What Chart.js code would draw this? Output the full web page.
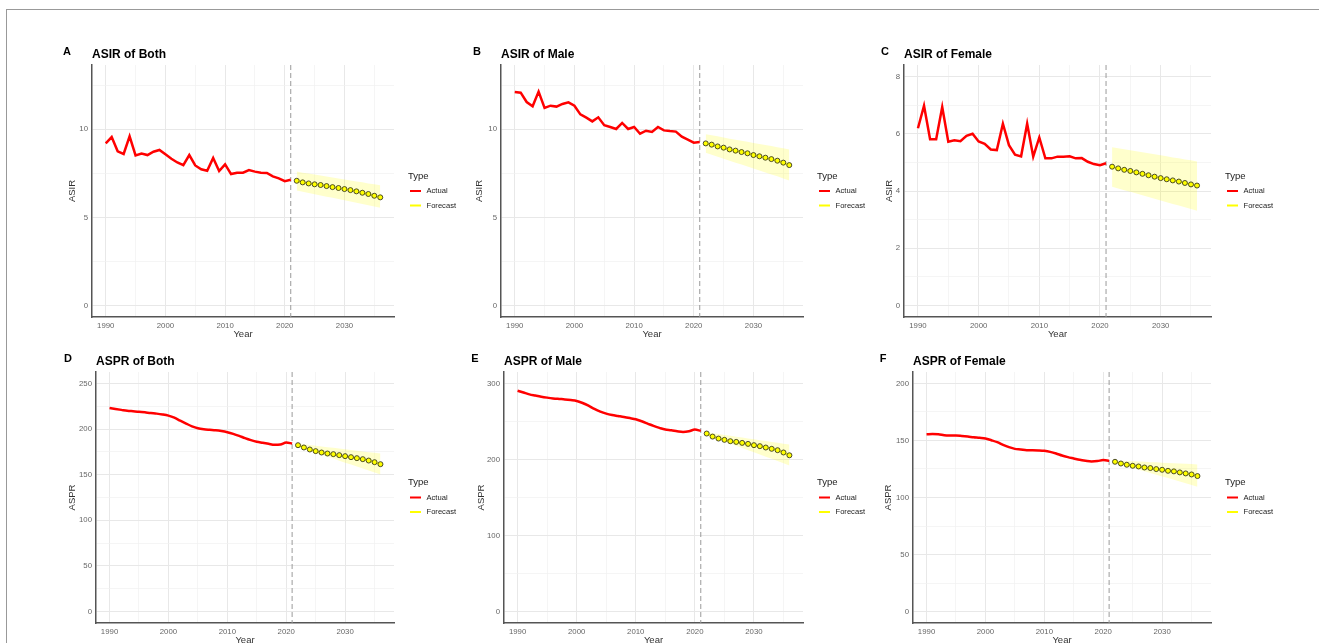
<!DOCTYPE html>
<html>
<head>
<meta charset="utf-8">
<title>ASIR / ASPR forecast</title>
<script src="https://cdn.jsdelivr.net/npm/chart.js@4.4.1/dist/chart.umd.min.js"></script>
<style>
  body { margin: 0; background: #fff; width: 1319px; height: 643px; overflow: hidden; position: relative; }
  .frame { position: absolute; left: 6px; top: 9px; right: 0; bottom: 0; border-top: 1px solid #999; border-left: 1px solid #999; }
  canvas { position: absolute; }
</style>
</head>
<body>
<div class="frame"></div>
<script>
const actualYears = [1990, 1991, 1992, 1993, 1994, 1995, 1996, 1997, 1998, 1999, 2000, 2001, 2002, 2003, 2004, 2005,
  2006, 2007, 2008, 2009, 2010, 2011, 2012, 2013, 2014, 2015, 2016, 2017, 2018, 2019, 2020, 2021]
const forecastYears = [2022, 2023, 2024, 2025, 2026, 2027, 2028, 2029, 2030, 2031, 2032, 2033, 2034, 2035, 2036]
const xTicks = [1990, 1995, 2000, 2005, 2010, 2015, 2020, 2025, 2030, 2035]
const xLabels = [1990, 2000, 2010, 2020, 2030]

// ASIR
const asirBothActual = [9.20, 9.56, 8.75, 8.60, 9.60, 8.52, 8.62, 8.54, 8.73, 8.83, 8.58, 8.33, 8.12, 7.97, 8.54, 7.95,
  7.73, 7.65, 8.37, 7.63, 8.01, 7.46, 7.54, 7.54, 7.69, 7.60, 7.54, 7.52, 7.33, 7.22, 7.06, 7.14]
const asirBothForecast = [7.08, 6.99, 6.93, 6.88, 6.84, 6.78, 6.72, 6.67, 6.61, 6.55, 6.48, 6.40, 6.33, 6.23, 6.14]
const asirBothUpper = [7.60, 7.54, 7.49, 7.43, 7.38, 7.32, 7.27, 7.21, 7.15, 7.10, 7.04, 6.99, 6.93, 6.88, 6.82]
const asirBothLower = [6.53, 6.46, 6.39, 6.32, 6.25, 6.18, 6.11, 6.04, 5.97, 5.90, 5.83, 5.76, 5.69, 5.62, 5.55]

const asirMaleActual = [12.12, 12.08, 11.55, 11.31, 12.14, 11.21, 11.34, 11.29, 11.44, 11.53, 11.34, 10.85, 10.66, 10.45, 10.68, 10.23,
  10.13, 10.02, 10.36, 10.02, 10.13, 9.75, 9.92, 9.85, 10.13, 9.94, 9.90, 9.87, 9.58, 9.41, 9.24, 9.28]
const asirMaleForecast = [9.20, 9.13, 9.03, 8.96, 8.86, 8.79, 8.71, 8.64, 8.54, 8.47, 8.39, 8.31, 8.22, 8.11, 7.97]
const asirMaleUpper = [9.72, 9.66, 9.60, 9.54, 9.47, 9.41, 9.35, 9.29, 9.23, 9.17, 9.11, 9.05, 8.98, 8.92, 8.86]
const asirMaleLower = [8.67, 8.56, 8.45, 8.33, 8.22, 8.11, 8.00, 7.89, 7.77, 7.66, 7.55, 7.44, 7.33, 7.21, 7.10]

const asirFemaleActual = [6.19, 6.98, 5.81, 5.81, 6.93, 5.72, 5.77, 5.74, 5.93, 6.00, 5.73, 5.65, 5.45, 5.43, 6.35, 5.60,
  5.27, 5.21, 6.35, 5.20, 5.87, 5.14, 5.14, 5.20, 5.20, 5.21, 5.14, 5.15, 5.02, 4.94, 4.90, 4.97]
const asirFemaleForecast = [4.85, 4.79, 4.74, 4.70, 4.65, 4.60, 4.55, 4.50, 4.45, 4.41, 4.37, 4.33, 4.28, 4.23, 4.19]
const asirFemaleUpper = [5.53, 5.49, 5.46, 5.42, 5.39, 5.35, 5.32, 5.28, 5.25, 5.21, 5.17, 5.14, 5.10, 5.07, 5.03]
const asirFemaleLower = [4.15, 4.09, 4.03, 3.97, 3.91, 3.85, 3.79, 3.73, 3.67, 3.61, 3.55, 3.49, 3.43, 3.37, 3.31]

// ASPR
const asprBothActual = [223.0, 222.0, 221.0, 220.0, 219.5, 219.0, 218.3, 217.5, 216.9, 216.0, 214.7, 212.5, 209.2, 206.0, 203.0, 200.9,
  199.8, 199.2, 198.7, 197.8, 196.5, 194.7, 192.5, 190.0, 187.8, 186.0, 184.9, 183.8, 182.7, 183.0, 185.2, 184.1]
const asprBothForecast = [182.3, 179.8, 177.6, 175.8, 174.3, 173.2, 172.5, 171.4, 170.3, 169.2, 168.1, 167.0, 165.5, 163.7, 161.5]
const asprBothUpper = [184.0, 183.2, 182.5, 181.7, 180.9, 180.1, 179.4, 178.6, 177.8, 177.1, 176.3, 175.5, 174.7, 174.0, 173.2]
const asprBothLower = [180.5, 178.3, 176.2, 174.0, 171.9, 169.7, 167.6, 165.4, 163.2, 161.1, 158.9, 156.8, 154.6, 152.5, 150.3]

const asprMaleActual = [290.4, 288.0, 285.6, 284.0, 282.5, 281.3, 280.3, 279.6, 279.0, 278.1, 276.9, 274.2, 270.7, 266.4, 262.9, 260.3,
  258.5, 257.2, 255.9, 254.4, 252.8, 250.2, 247.2, 244.1, 241.5, 239.3, 238.4, 237.1, 236.2, 237.1, 239.3, 237.6]
const asprMaleForecast = [234.1, 230.1, 227.5, 225.8, 224.0, 223.1, 221.8, 220.5, 218.8, 217.5, 215.7, 214.0, 212.2, 209.2, 205.5]
const asprMaleUpper = [235.8, 234.6, 233.5, 232.3, 231.2, 230.0, 228.9, 227.7, 226.6, 225.4, 224.3, 223.1, 222.0, 220.8, 219.7]
const asprMaleLower = [232.3, 229.4, 226.6, 223.7, 220.8, 218.0, 215.1, 212.2, 209.4, 206.5, 203.6, 200.8, 197.9, 195.0, 192.1]

const asprFemaleActual = [155.5, 155.6, 155.5, 154.5, 154.3, 154.3, 153.9, 153.4, 152.8, 152.3, 151.7, 150.2, 148.5, 146.1, 144.1, 142.6,
  142.1, 141.5, 141.5, 141.3, 140.9, 140.0, 138.6, 136.8, 135.4, 134.2, 133.0, 132.2, 131.6, 131.9, 132.8, 132.2]
const asprFemaleForecast = [131.3, 129.8, 128.7, 127.8, 127.2, 126.3, 125.8, 124.9, 124.3, 123.4, 122.9, 122.0, 121.1, 120.2, 118.8]
const asprFemaleUpper = [132.5, 132.3, 132.0, 131.8, 131.5, 131.3, 131.0, 130.8, 130.5, 130.3, 130.0, 129.8, 129.5, 129.3, 129.0]
const asprFemaleLower = [130.4, 128.9, 127.4, 125.9, 124.4, 122.9, 121.4, 120.0, 118.5, 117.0, 115.5, 114.0, 112.5, 111.0, 109.5]

// y ticks (all get a grid line, only the labelled ones get text)
const asirTicks = [0, 2.5, 5, 7.5, 10, 12.5]
const asirLabels = [0, 5, 10]
const asirFemaleTicks = [0, 1, 2, 3, 4, 5, 6, 7, 8]
const asirFemaleLabels = [0, 2, 4, 6, 8]
const asprBothTicks = [0, 25, 50, 75, 100, 125, 150, 175, 200, 225, 250]
const asprBothLabels = [0, 50, 100, 150, 200, 250]
const asprMaleTicks = [0, 50, 100, 150, 200, 250, 300]
const asprMaleLabels = [0, 100, 200, 300]
const asprFemaleTicks = [0, 25, 50, 75, 100, 125, 150, 175, 200]
const asprFemaleLabels = [0, 50, 100, 150, 200]

const FONT = '"Liberation Sans", Arial, sans-serif'
const X_MIN = 1987.7, X_MAX = 2038.3
const LEFT_PAD = 70, TOP_PAD = 40, RIGHT_PAD = 110, X_AXIS_H = 24

const panels = [
  { letter: 'A', title: 'ASIR of Both', yTitle: 'ASIR', actual: asirBothActual, forecast: asirBothForecast,
    upper: asirBothUpper, lower: asirBothLower, yTicks: asirTicks, yLabels: asirLabels, yMin: -0.65, yMax: 13.65,
    box: { left: 92, top: 65, right: 394, bottom: 317 }, gap: 25, letterX: 67, smooth: false },
  { letter: 'B', title: 'ASIR of Male', yTitle: 'ASIR', actual: asirMaleActual, forecast: asirMaleForecast,
    upper: asirMaleUpper, lower: asirMaleLower, yTicks: asirTicks, yLabels: asirLabels, yMin: -0.65, yMax: 13.65,
    box: { left: 501, top: 65, right: 803, bottom: 317 }, gap: 27, letterX: 477, smooth: false },
  { letter: 'C', title: 'ASIR of Female', yTitle: 'ASIR', actual: asirFemaleActual, forecast: asirFemaleForecast,
    upper: asirFemaleUpper, lower: asirFemaleLower, yTicks: asirFemaleTicks, yLabels: asirFemaleLabels, yMin: -0.4, yMax: 8.4,
    box: { left: 904, top: 65, right: 1211, bottom: 317 }, gap: 20, letterX: 885, smooth: false },
  { letter: 'D', title: 'ASPR of Both', yTitle: 'ASPR', actual: asprBothActual, forecast: asprBothForecast,
    upper: asprBothUpper, lower: asprBothLower, yTicks: asprBothTicks, yLabels: asprBothLabels, yMin: -12.5, yMax: 262.5,
    box: { left: 96, top: 372, right: 394, bottom: 623 }, gap: 29, letterX: 68, smooth: true },
  { letter: 'E', title: 'ASPR of Male', yTitle: 'ASPR', actual: asprMaleActual, forecast: asprMaleForecast,
    upper: asprMaleUpper, lower: asprMaleLower, yTicks: asprMaleTicks, yLabels: asprMaleLabels, yMin: -15, yMax: 315,
    box: { left: 504, top: 372, right: 803, bottom: 623 }, gap: 28, letterX: 475, smooth: true },
  { letter: 'F', title: 'ASPR of Female', yTitle: 'ASPR', actual: asprFemaleActual, forecast: asprFemaleForecast,
    upper: asprFemaleUpper, lower: asprFemaleLower, yTicks: asprFemaleTicks, yLabels: asprFemaleLabels, yMin: -10, yMax: 210,
    box: { left: 913, top: 372, right: 1211, bottom: 623 }, gap: 30, letterX: 883, smooth: true }
]

const toPoints = (xs, ys) => xs.map((x, i) => ({ x: x, y: ys[i] }))

// dashed line at the last observed year, panel letter, title and legend
const decor = {
  id: 'decor',
  beforeDatasetsDraw(chart, args, opts) {
    const { ctx, chartArea } = chart
    const x = chart.scales.x.getPixelForValue(2021)
    ctx.save()
    ctx.strokeStyle = '#9a9a9a'
    ctx.lineWidth = 1
    ctx.setLineDash([5, 3])
    ctx.beginPath()
    ctx.moveTo(x, chartArea.top)
    ctx.lineTo(x, chartArea.bottom)
    ctx.stroke()
    ctx.restore()
  },
  afterDraw(chart, args, opts) {
    const { ctx, chartArea } = chart
    ctx.save()
    ctx.fillStyle = '#000'
    ctx.textBaseline = 'middle'
    ctx.textAlign = 'center'
    ctx.font = 'bold 11px ' + FONT
    ctx.fillText(opts.letter, opts.letterX, chartArea.top - 13.5)
    ctx.textAlign = 'left'
    ctx.font = 'bold 12px ' + FONT
    ctx.fillText(opts.title, chartArea.left, chartArea.top - 10)

    const x0 = chartArea.right + 14
    const cy = (chartArea.top + chartArea.bottom) / 2
    ctx.fillStyle = '#222'
    ctx.font = '9.5px ' + FONT
    ctx.fillText('Type', x0, cy - 15)
    ctx.font = '7.6px ' + FONT
    ctx.lineWidth = 2
    ctx.strokeStyle = '#ff0000'
    ctx.beginPath(); ctx.moveTo(x0 + 2, cy); ctx.lineTo(x0 + 13, cy); ctx.stroke()
    ctx.fillText('Actual', x0 + 18.5, cy)
    ctx.strokeStyle = '#ffff00'
    ctx.beginPath(); ctx.moveTo(x0 + 2, cy + 14.5); ctx.lineTo(x0 + 13, cy + 14.5); ctx.stroke()
    ctx.fillText('Forecast', x0 + 18.5, cy + 14.5)
    ctx.restore()
  }
}

function gridStyle(labels) {
  return {
    drawTicks: false,
    color: c => labels.includes(c.tick && c.tick.value) ? '#e8e8e8' : '#f1f1f1',
    lineWidth: c => labels.includes(c.tick && c.tick.value) ? 1 : 0.7
  }
}

function makePanel(p) {
  const w = p.box.right - p.box.left
  const h = p.box.bottom - p.box.top
  const canvas = document.createElement('canvas')
  const cLeft = p.box.left - LEFT_PAD
  const cTop = p.box.top - TOP_PAD
  canvas.style.left = cLeft + 'px'
  canvas.style.top = cTop + 'px'
  canvas.style.width = (w + LEFT_PAD + RIGHT_PAD) + 'px'
  canvas.style.height = (h + TOP_PAD + X_AXIS_H) + 'px'
  canvas.width = w + LEFT_PAD + RIGHT_PAD
  canvas.height = h + TOP_PAD + X_AXIS_H
  document.body.appendChild(canvas)

  new Chart(canvas, {
    type: 'line',
    data: {
      datasets: [
        {
          label: 'Forecast',
          data: toPoints(forecastYears, p.forecast),
          borderColor: '#ffff00',
          borderWidth: 1.5,
          pointRadius: 2.5,
          pointBackgroundColor: '#ffff00',
          pointBorderColor: '#3a3a20',
          pointBorderWidth: 0.9,
          order: 0
        },
        {
          label: 'Actual',
          data: toPoints(actualYears, p.actual),
          borderColor: '#ff0000',
          borderWidth: 2.5,
          pointRadius: 0,
          cubicInterpolationMode: p.smooth ? 'monotone' : 'default',
          tension: 0,
          order: 1
        },
        {
          label: 'upper',
          data: toPoints(forecastYears, p.upper),
          borderWidth: 0,
          pointRadius: 0,
          fill: false,
          order: 2
        },
        {
          label: 'lower',
          data: toPoints(forecastYears, p.lower),
          borderWidth: 0,
          pointRadius: 0,
          fill: '-1',
          backgroundColor: 'rgba(255, 255, 0, 0.2)',
          order: 3
        }
      ]
    },
    options: {
      responsive: false,
      animation: false,
      events: [],
      layout: { padding: { left: LEFT_PAD - p.gap, top: TOP_PAD, right: RIGHT_PAD, bottom: 0 } },
      plugins: {
        legend: { display: false },
        tooltip: { enabled: false },
        title: { display: false },
        decor: { letter: p.letter, title: p.title, letterX: p.letterX - cLeft }
      },
      scales: {
        x: {
          type: 'linear',
          min: X_MIN,
          max: X_MAX,
          afterBuildTicks: axis => { axis.ticks = xTicks.map(v => ({ value: v })) },
          afterFit: axis => { axis.height = X_AXIS_H },
          ticks: {
            padding: 4,
            autoSkip: false,
            maxRotation: 0,
            color: '#666',
            font: { family: FONT, size: 7.8 },
            callback: v => xLabels.includes(v) ? String(v) : ''
          },
          grid: gridStyle(xLabels),
          border: { display: true, color: '#555', width: 1.5 },
          title: { display: true, text: 'Year', color: '#333', font: { family: FONT, size: 9.5 }, padding: { top: 0, bottom: 1 } }
        },
        y: {
          type: 'linear',
          min: p.yMin,
          max: p.yMax,
          afterBuildTicks: axis => { axis.ticks = p.yTicks.map(v => ({ value: v })) },
          afterFit: axis => { axis.width = p.gap },
          ticks: {
            padding: 4,
            autoSkip: false,
            color: '#666',
            font: { family: FONT, size: 7.8 },
            callback: v => p.yLabels.includes(v) ? String(v) : ''
          },
          grid: gridStyle(p.yLabels),
          border: { display: true, color: '#555', width: 1.5 },
          title: { display: true, text: p.yTitle, color: '#333', font: { family: FONT, size: 9.5 }, padding: { top: 0, bottom: 0 } }
        }
      }
    },
    plugins: [decor]
  })
}

panels.forEach(makePanel)
</script>
</body>
</html>
